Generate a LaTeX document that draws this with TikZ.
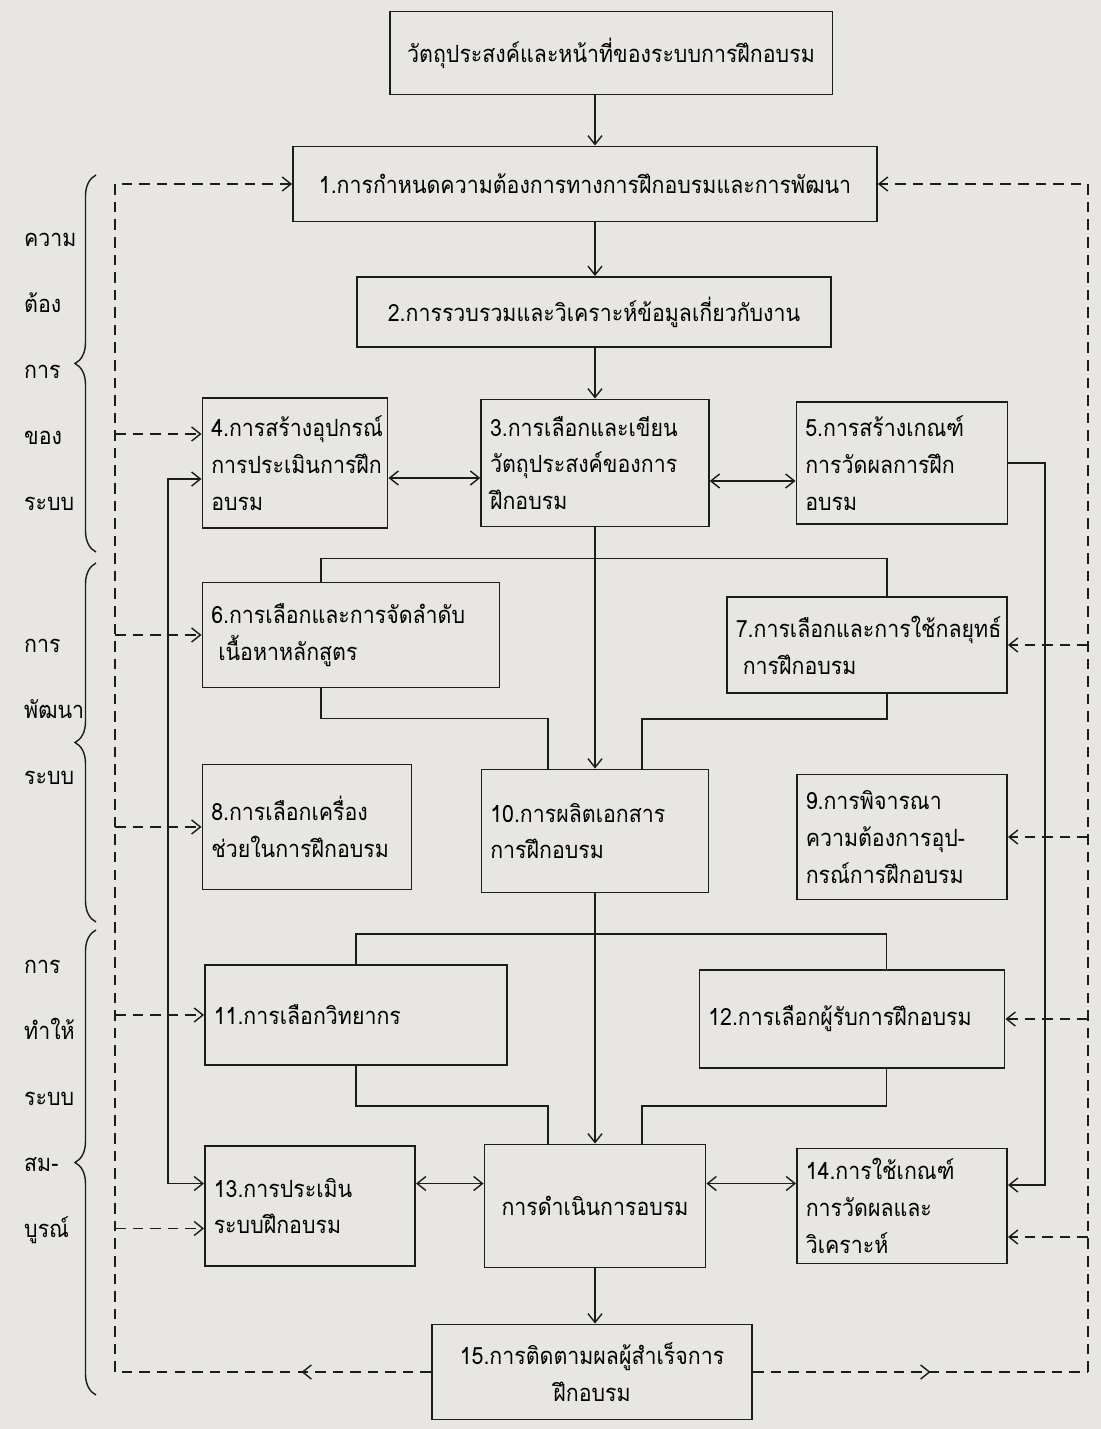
\documentclass[tikz,border=0pt]{standalone}
\usepackage{fontspec}
\setmainfont{Loma}[Script=Thai, FakeStretch=0.9]
\usepackage{tikz}
\usetikzlibrary{arrows.meta,calc,decorations.pathreplacing,decorations.markings}
\definecolor{Paper}{HTML}{E7E6E2}
\definecolor{Ink}{HTML}{1C1C1C}

\begin{document}
\begin{tikzpicture}[x=0.02cm, y=-0.02cm, font={\fontsize{13.5}{21}\selectfont\lineskiplimit=-20pt}, >={Straight Barb[length=5pt,width=8pt]}]
\tikzset{box/.style={draw=Ink, line width=1.1pt, align=left, inner xsep=5pt, inner ysep=4pt}, cbox/.style={box, align=center}, ln/.style={draw=Ink, line width=0.8pt}, fb/.style={draw=Ink, line width=0.8pt, dash pattern=on 6pt off 4pt}, side/.style={align=left, font={\fontsize{13.5}{37.5}\selectfont\lineskiplimit=-20pt}}, brc/.style={draw=Ink, line width=0.8pt, decorate, decoration={brace, amplitude=0.42cm}}, lmid/.style={postaction={decorate, decoration={markings, mark=at position 0.41 with {\arrow{>}}}}}, rmid/.style={postaction={decorate, decoration={markings, mark=at position 0.53 with {\arrow{>}}}}}}
\fill[Paper] (0,0) rectangle (1101,1429);
\node[cbox, minimum width=8.86cm, minimum height=1.66cm] (obj) at (611,53) {วัตถุประสงค์และหน้าที่ของระบบการฝึกอบรม};
\node[cbox, minimum width=11.68cm, minimum height=1.5cm] (b1) at (585,184) {1.การกำหนดความต้องการทางการฝึกอบรมและการพัฒนา};
\node[cbox, minimum width=9.5cm, minimum height=1.4cm] (b2) at (594,312) {2.การรวบรวมและวิเคราะห์ข้อมูลเกี่ยวกับงาน};
\node[box, text width=3.35cm, minimum height=2.6cm] (b4) at (295,463) {4.การสร้างอุปกรณ์\\การประเมินการฝึก\\อบรม};
\node[box, text width=4.2cm, minimum height=2.54cm] (b3) at (595,463) {3.การเลือกและเขียน\\วัตถุประสงค์ของการ\\ฝึกอบรม};
\node[box, text width=3.87cm, minimum height=2.44cm] (b5) at (902,463) {5.การสร้างเกณฑ์\\การวัดผลการฝึก\\อบรม};
\node[box, text width=5.59cm, minimum height=2.1cm] (b6) at (351,635) {6.การเลือกและการจัดลำดับ\\\hspace{4pt}เนื้อหาหลักสูตร};
\node[box, text width=5.25cm, minimum height=1.92cm] (b7) at (867,645) {7.การเลือกและการใช้กลยุทธ์\\\hspace{4pt}การฝึกอบรม};
\node[box, text width=3.83cm, minimum height=2.5cm] (b8) at (307,827) {8.การเลือกเครื่อง\\ช่วยในการฝึกอบรม};
\node[box, text width=4.19cm, minimum height=2.46cm] (b10) at (595,831) {10.การผลิตเอกสาร\\การฝึกอบรม};
\node[box, text width=3.85cm, minimum height=2.5cm] (b9) at (902,837) {9.การพิจารณา\\ความต้องการอุป-\\กรณ์การฝึกอบรม};
\node[box, text width=5.69cm, minimum height=2cm] (b11) at (356,1015) {11.การเลือกวิทยากร\\[4pt]};
\node[box, text width=5.75cm, minimum height=1.96cm] (b12) at (852,1019) {12.การเลือกผู้รับการฝึกอบรม\\[4pt]};
\node[box, text width=3.85cm, minimum height=2.4cm] (b13) at (310,1206) {13.การประเมิน\\ระบบฝึกอบรม};
\node[cbox, minimum width=4.42cm, minimum height=2.46cm] (run) at (595,1206) {การดำเนินการอบรม};
\node[box, text width=3.85cm, minimum height=2.3cm] (b14) at (902,1206) {14.การใช้เกณฑ์\\การวัดผลและ\\วิเคราะห์};
\node[cbox, text width=6.05cm, minimum height=1.9cm] (b15) at (592,1372) {15.การติดตามผลผู้สำเร็จการ\\ฝึกอบรม};
\node[side, anchor=west] (lab1) at (18,372) {ความ\\ต้อง\\การ\\ของ\\ระบบ};
\node[side, anchor=west] (lab2) at (18,712) {การ\\พัฒนา\\ระบบ};
\node[side, anchor=west] (lab3) at (18,1102) {การ\\ทำให้\\ระบบ\\สม-\\บูรณ์};
\draw[brc] (96,552) -- (96,175); \draw[brc] (96,922) -- (96,563); \draw[brc] (96,1395) -- (96,930);
\coordinate (lbus) at (115,0); \coordinate (rbus) at (1088,0); \coordinate (sbl) at (168,0); \coordinate (sbr) at (1045,0);
\coordinate (b4d) at ([yshift=0.58cm]b4.west); \coordinate (b4s) at ([yshift=-0.32cm]b4.west);
\coordinate (b13s) at ([yshift=0.45cm]b13.west); \coordinate (b13d) at ([yshift=-0.45cm]b13.west);
\coordinate (b14s) at ([yshift=0.42cm]b14.east); \coordinate (b14d) at ([yshift=-0.62cm]b14.east);
\draw[ln,->] (obj.south -| b3) -- (b1.north -| b3); \draw[ln,->] (b1.south -| b3) -- (b2.north -| b3); \draw[ln,->] (b2.south -| b3) -- (b3.north);
\draw[ln,->] (b3.south) -- (b10.north); \draw[ln,->] (b10.south) -- (run.north); \draw[ln,->] (run.south) -- (run.south |- b15.north);
\draw[ln,<->] ([yshift=-0.3cm]b4.east) -- ([yshift=-0.3cm]b3.west); \draw[ln,<->] ([yshift=-0.36cm]b3.east) -- ([yshift=-0.36cm]b5.west);
\draw[ln,<->] ([yshift=0.45cm]b13.east) -- ([yshift=0.45cm]run.west); \draw[ln,<->] ([yshift=0.45cm]run.east) -- ([yshift=0.45cm]b14.west);
\draw[ln] ([xshift=-0.6cm]b6.north) -- ++(0,-23) -| ([xshift=0.4cm]b7.north);
\draw[ln] ([xshift=-0.6cm]b6.south) -- ++(0,30) -| ([xshift=-0.94cm]b10.north); \draw[ln] ([xshift=0.4cm]b7.south) -- ++(0,25) -| ([xshift=0.94cm]b10.north);
\draw[ln] (b11.north) -- ++(0,-30) -| ([xshift=0.69cm]b12.north);
\draw[ln] (b11.south) -- ++(0,40) -| ([xshift=-0.94cm]run.north); \draw[ln] ([xshift=0.69cm]b12.south) -- ++(0,37) -| ([xshift=0.94cm]run.north);
\draw[ln,<->] (b4s) -- (b4s -| sbl) -- (b13s -| sbl) -- (b13s);
\draw[ln,->] (b5.east) -- (b5.east -| sbr) -- (b14s -| sbr) -- (b14s);
\draw[fb,lmid] (b15.west) -- (lbus |- b15.west); \draw[fb,->] (lbus |- b15.west) -- (lbus |- b1.west) -- (b1.west);
\draw[fb,->] (lbus |- b4d) -- (b4d); \draw[fb,->] (lbus |- b6.west) -- (b6.west); \draw[fb,->] (lbus |- b8.west) -- (b8.west); \draw[fb,->] (lbus |- b11.west) -- (b11.west); \draw[fb,->] (lbus |- b13d) -- (b13d);
\draw[fb,rmid] (b15.east) -- (rbus |- b15.east); \draw[fb,->] (rbus |- b15.east) -- (rbus |- b1.east) -- (b1.east);
\draw[fb,->] (rbus |- b7.east) -- (b7.east); \draw[fb,->] (rbus |- b9.east) -- (b9.east); \draw[fb,->] (rbus |- b12.east) -- (b12.east); \draw[fb,->] (rbus |- b14d) -- (b14d);
\end{tikzpicture}
\end{document}
